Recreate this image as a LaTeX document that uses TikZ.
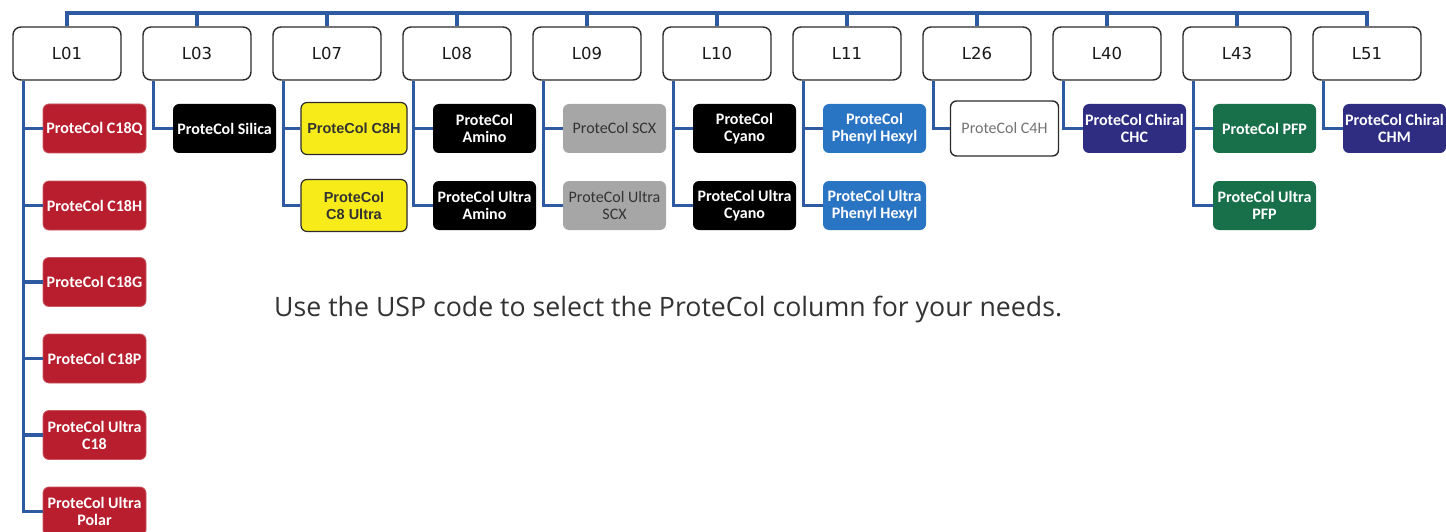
\documentclass[tikz,border=0pt]{standalone}
\usepackage{fontspec}
\setmainfont{Open Sans}
\newfontfamily\boxfont{Carlito}
\newfontfamily\labfont{DejaVu Sans}
\newfontfamily\arialfont{Liberation Sans}
\definecolor{connc}{HTML}{2E5AA2}
\definecolor{topb}{HTML}{2B2B2B}
\definecolor{cred}{HTML}{B81E2D}
\definecolor{cyel}{HTML}{F7EC1A}
\definecolor{cgray}{HTML}{A6A6A6}
\definecolor{cblue}{HTML}{2A74C4}
\definecolor{cnavy}{HTML}{2E2D82}
\definecolor{cgreen}{HTML}{17704A}
\definecolor{txtd}{HTML}{333333}
\tikzset{
  conn/.style={draw=connc, line width=3.5pt},
  topbox/.style={draw=topb, line width=1.4pt, fill=white, rounded corners=8pt,
    minimum width=108pt, minimum height=53pt, inner sep=0pt,
    font=\labfont\fontsize{16.5}{18}\selectfont, text=black!90},
  colbox/.style={rounded corners=6pt, minimum width=103pt, minimum height=49pt,
    inner sep=1pt, align=center,
    font=\boxfont\bfseries\fontsize{16}{17}\selectfont, text=white},
  redbox/.style={colbox, fill=cred, draw=cred!75!white, line width=0.8pt},
  blackbox/.style={colbox, fill=black},
  yelbox/.style={colbox, fill=cyel, draw=topb, line width=1.2pt, text=txtd,
    minimum width=106pt, minimum height=52pt,
    font=\arialfont\bfseries\fontsize{14.5}{17}\selectfont},
  graybox/.style={colbox, fill=cgray, text=txtd,
    font=\boxfont\fontsize{16}{17}\selectfont},
  bluebox/.style={colbox, fill=cblue},
  navybox/.style={colbox, fill=cnavy},
  greenbox/.style={colbox, fill=cgreen},
  whitebox/.style={colbox, fill=white, draw=topb, line width=1.4pt, text=black!55,
    minimum width=108pt, minimum height=55pt,
    font=\boxfont\fontsize{16}{17}\selectfont},
}
\begin{document}
\begin{tikzpicture}[x=1pt, y=-1pt]
\useasboundingbox (0,0) rectangle (1446,532);
\coordinate (bus) at (0,13);
% top boxes
\node[topbox] (L01) at (67,53.5) {L01};
\node[topbox] (L03) at (197,53.5) {L03};
\node[topbox] (L07) at (327,53.5) {L07};
\node[topbox] (L08) at (457,53.5) {L08};
\node[topbox] (L09) at (587,53.5) {L09};
\node[topbox] (L10) at (717,53.5) {L10};
\node[topbox] (L11) at (847,53.5) {L11};
\node[topbox] (L26) at (977,53.5) {L26};
\node[topbox] (L40) at (1107,53.5) {L40};
\node[topbox] (L43) at (1237,53.5) {L43};
\node[topbox] (L51) at (1367,53.5) {L51};
% bus
\draw[conn] (L01.north) |- (L51.north |- bus) -- (L51.north);
\foreach \n in {L03,L07,L08,L09,L10,L11,L26,L40,L43}
  \draw[conn] (\n.north) -- (\n.north |- bus);
% L01 column
\node[redbox] (c18q) at (94.5,128.5) {ProteCol C18Q};
\node[redbox] (c18h) at (94.5,205.5) {ProteCol C18H};
\node[redbox] (c18g) at (94.5,282) {ProteCol C18G};
\node[redbox] (c18p) at (94.5,358.5) {ProteCol C18P};
\node[redbox] (uc18) at (94.5,435) {ProteCol Ultra\\C18};
\node[redbox] (upol) at (94.5,511.5) {ProteCol Ultra\\Polar};
% L03
\node[blackbox] (sil) at (224.5,128.5) {ProteCol Silica};
% L07
\node[yelbox] (c8h) at (354,128.5) {ProteCol C8H};
\node[yelbox] (c8u) at (354,205.5) {ProteCol\\C8 Ultra};
% L08
\node[blackbox] (ami) at (484.5,128.5) {ProteCol\\Amino};
\node[blackbox] (uami) at (484.5,205.5) {ProteCol Ultra\\Amino};
% L09
\node[graybox] (scx) at (614.5,128.5) {ProteCol SCX};
\node[graybox] (uscx) at (614.5,205.5) {ProteCol Ultra\\SCX};
% L10
\node[blackbox] (cya) at (744.5,128.5) {ProteCol\\Cyano};
\node[blackbox] (ucya) at (744.5,205.5) {ProteCol Ultra\\Cyano};
% L11
\node[bluebox] (phx) at (874.5,128.5) {ProteCol\\Phenyl Hexyl};
\node[bluebox] (uphx) at (874.5,205.5) {ProteCol Ultra\\Phenyl Hexyl};
% L26
\node[whitebox] (c4h) at (1004.5,128.5) {ProteCol C4H};
% L40
\node[navybox] (chc) at (1134.5,128.5) {ProteCol Chiral\\CHC};
% L43
\node[greenbox] (pfp) at (1264.5,128.5) {ProteCol PFP};
\node[greenbox] (upfp) at (1264.5,205.5) {ProteCol Ultra\\PFP};
% L51
\node[navybox] (chm) at (1394.5,128.5) {ProteCol Chiral\\CHM};
% connectors
\foreach \p/\c in {L01/c18q,L01/c18h,L01/c18g,L01/c18p,L01/uc18,L01/upol,
  L03/sil,L07/c8h,L07/c8u,L08/ami,L08/uami,L09/scx,L09/uscx,L10/cya,L10/ucya,
  L11/phx,L11/uphx,L26/c4h,L40/chc,L43/pfp,L43/upfp,L51/chm}
  \draw[conn] ([xshift=11pt]\p.south west) |- (\c.west);
% caption
\node[anchor=west, inner sep=0pt, text=txtd, font=\fontsize{26.7}{30}\selectfont]
  (cap) at (274,309) {Use the USP code to select the ProteCol column for your needs.};
\end{tikzpicture}
\end{document}
